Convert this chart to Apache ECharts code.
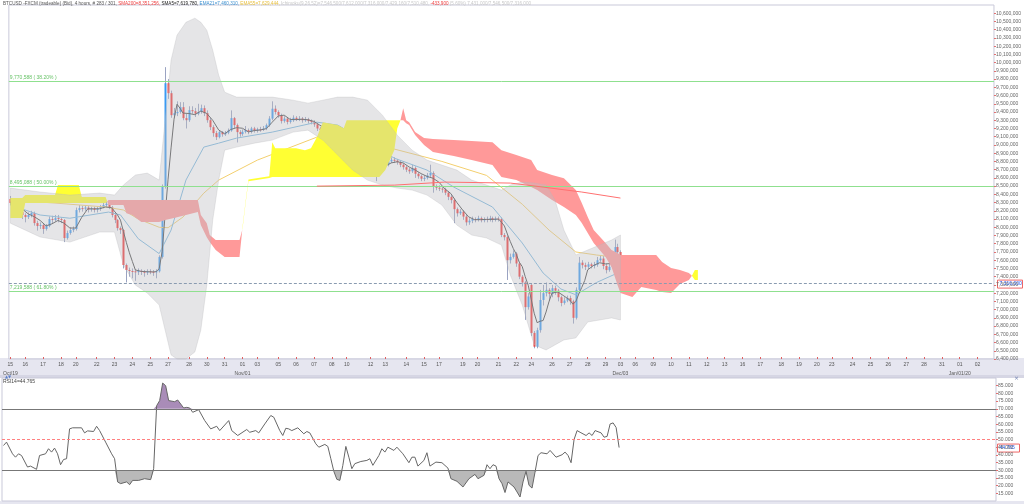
<!DOCTYPE html>
<html><head><meta charset="utf-8">
<script src="https://cdn.jsdelivr.net/npm/echarts/dist/echarts.min.js"></script>
<style>
html,body{margin:0;padding:0;background:#fff;overflow:hidden}
#wrap{position:relative;width:1024px;height:504px}
.band{position:absolute;left:0;width:1024px}
#c{position:absolute;left:0;top:0;width:1024px;height:504px}
</style></head><body>
<div id="wrap">
<div class="band" style="top:358px;height:18px;background:#e6e6f0"></div>
<div class="band" style="top:375px;height:3px;background:#d6d6e4"></div>
<div class="band" style="top:501px;height:3px;background:#e6e6f0"></div>
<div id="c"></div>
</div>
<script>
// ---------------- DATA ----------------
const barCount = 331;
const dayTicks = [[0,'15'],[5,'16'],[11,'17'],[17,'18'],[22,'20'],[29,'22'],[35,'23'],[41,'24'],[47,'25'],[53,'27'],[60,'28'],[66,'30'],[72,'31'],[78,'01'],[83,'03'],[90,'05'],[96,'06'],[102,'07'],[108,'08'],[113,'10'],[121,'12'],[126,'13'],[133,'14'],[139,'15'],[144,'17'],[152,'19'],[157,'20'],[164,'21'],[170,'22'],[175,'24'],[182,'26'],[188,'27'],[194,'28'],[200,'29'],[205,'03'],[210,'06'],[216,'09'],[222,'10'],[228,'11'],[234,'12'],[240,'13'],[246,'16'],[252,'17'],[259,'18'],[265,'19'],[271,'20'],[276,'23'],[283,'24'],[289,'25'],[295,'26'],[301,'27'],[307,'28'],[313,'31'],[319,'01'],[325,'02']];
const monthTicks = [[0,'Oct/19'],[78,'Nov/01'],[205,'Dec/03'],[319,'Jan/01/20']];

// candles [open, close, low, high] in thousands
const candles = [
[8343,8295,8270,8380],[8295,8270,8230,8320],[8270,8209,8170,8290],[8209,8185,8150,8240],[8185,8149,8100,8200],
[8149,8124,8060,8170],[8124,8149,8100,8180],[8149,8173,8120,8200],[8173,8051,8020,8190],[8051,8015,7960,8080],
[8015,8027,7980,8060],[8027,7979,7920,8050],[7979,8015,7960,8040],[8015,8100,8000,8130],[8100,8088,8050,8140],
[8088,8112,8070,8150],[8112,8100,8060,8150],[8100,8088,8050,8120],[8088,7869,7820,8100],[7869,7930,7850,7960],
[7930,7966,7910,8000],[7966,7979,7940,8010],[7979,8209,7960,8240],[8209,8233,8180,8270],[8233,8225,8190,8260],
[8225,8240,8200,8270],[8240,8215,8180,8260],[8215,8230,8190,8250],[8230,8210,8180,8250],[8210,8225,8180,8250],
[8225,8245,8200,8270],[8245,8270,8230,8300],[8270,8285,8250,8320],[8285,8240,8220,8300],[8240,8149,8120,8260],
[8149,8088,8050,8170],[8088,7990,7960,8100],[7990,7966,7920,8010],[7966,7542,7500,7980],[7542,7481,7330,7560],
[7481,7469,7400,7510],[7469,7465,7380,7500],[7465,7455,7350,7490],[7455,7470,7420,7500],[7470,7460,7420,7490],
[7460,7450,7400,7480],[7450,7465,7420,7490],[7465,7460,7430,7490],[7460,7455,7410,7480],[7455,7465,7380,7490],
[7465,7640,7450,7660],[7640,8490,7620,8520],[8490,9750,8470,9945],[9750,9629,9560,9800],[9629,9362,9330,9660],
[9362,9386,9330,9450],[9386,9400,9350,9530],[9400,9459,9380,9520],[9459,9326,9300,9520],[9326,9301,9200,9380],
[9301,9423,9280,9470],[9423,9410,9380,9470],[9410,9380,9340,9450],[9380,9400,9360,9500],[9400,9447,9380,9490],
[9447,9386,9350,9480],[9386,9301,9270,9420],[9301,9216,9180,9330],[9216,9144,9100,9240],[9144,9095,9060,9170],
[9095,9156,9080,9180],[9156,9130,9100,9170],[9130,9150,9110,9170],[9150,9175,9130,9200],[9175,9326,9160,9420],
[9326,9241,9200,9340],[9241,9156,9030,9260],[9156,9132,9100,9180],[9132,9160,9110,9190],[9160,9180,9140,9230],
[9180,9160,9130,9200],[9160,9200,9140,9220],[9200,9175,9150,9220],[9175,9190,9150,9210],[9190,9185,9160,9220],
[9185,9200,9170,9230],[9200,9240,9180,9260],[9240,9320,9220,9350],[9320,9440,9300,9530],[9440,9400,9370,9480],
[9400,9360,9330,9420],[9360,9290,9260,9380],[9290,9320,9270,9350],[9320,9280,9250,9340],[9280,9300,9260,9330],
[9300,9330,9280,9360],[9330,9310,9290,9350],[9310,9320,9290,9350],[9320,9300,9270,9340],[9300,9310,9280,9340],
[9310,9290,9260,9330],[9290,9280,9250,9310],[9280,9250,9220,9300],[9250,9200,9170,9260],[9200,9180,9150,9220],
[9180,9170,9140,9210],[9170,9190,9150,9220],[9190,9160,9130,9210],[9160,9150,9110,9190],[9150,9100,9060,9170],
[9100,8900,8860,9110],[8900,8760,8640,8920],[8760,8820,8740,8850],[8820,8900,8800,8930],[8900,8960,8880,9000],
[8960,8850,8820,8980],[8850,8720,8640,8870],[8720,8760,8700,8790],[8760,8800,8740,8830],[8800,8790,8760,8830],
[8790,8810,8770,8840],[8810,8780,8750,8830],[8780,8740,8700,8800],[8740,8700,8560,8760],[8700,8750,8680,8780],
[8750,8780,8730,8810],[8780,8760,8730,8800],[8760,8800,8740,8830],[8800,8820,8780,8850],[8820,8810,8780,8850],
[8810,8790,8760,8830],[8790,8760,8730,8810],[8760,8730,8700,8780],[8730,8700,8670,8750],[8700,8680,8650,8720],
[8680,8720,8660,8760],[8720,8650,8600,8740],[8650,8620,8590,8670],[8620,8590,8560,8640],[8590,8600,8560,8630],
[8600,8630,8580,8660],[8630,8660,8610,8760],[8660,8500,8420,8680],[8500,8480,8450,8520],[8480,8470,8440,8510],
[8470,8460,8420,8500],[8460,8420,8390,8480],[8420,8370,8330,8440],[8370,8330,8290,8390],[8330,8220,8050,8350],
[8220,8170,8130,8240],[8170,8190,8150,8220],[8190,8130,8090,8210],[8130,8060,8020,8150],[8060,8080,8030,8110],
[8080,8100,8050,8130],[8100,8090,8060,8120],[8090,8110,8070,8140],[8110,8085,8060,8130],[8085,8100,8060,8120],
[8100,8095,8060,8130],[8095,8110,8070,8140],[8110,8090,8060,8130],[8090,8105,8070,8130],[8105,8100,8070,8130],
[8100,7906,7880,8120],[7906,7880,7840,7930],[7880,7600,7360,7900],[7600,7640,7560,7680],[7640,7680,7620,7720],
[7680,7560,7520,7700],[7560,7400,7370,7580],[7400,7330,7280,7420],[7330,7030,6875,7350],[7030,7160,7000,7200],
[7300,6717,6680,7320],[6717,6550,6530,6740],[6550,6750,6530,6780],[6750,7117,6720,7240],[7117,7200,7050,7300],
[7200,7240,7160,7330],[7240,7190,7100,7260],[7190,7260,7150,7300],[7260,7230,7180,7290],[7230,7150,7100,7250],
[7150,7080,7040,7170],[7080,7110,7060,7150],[7110,7140,7090,7170],[7140,7100,7060,7170],[7100,6900,6830,7120],
[6900,7240,6880,7270],[7240,7570,7220,7640],[7570,7540,7500,7600],[7540,7520,7480,7570],[7520,7550,7490,7580],
[7550,7530,7500,7570],[7530,7545,7500,7580],[7545,7600,7520,7640],[7600,7620,7580,7660],[7620,7530,7490,7650],
[7530,7480,7440,7560],[7480,7520,7460,7560],[7520,7650,7500,7680],[7650,7760,7630,7850],[7760,7700,7670,7800],
[7700,7316,7290,7720]
];

// indicator readings [bar, value(thousands)]
const sma5 = [[0,8300],[2,8260],[4,8222],[6,8163],[8,8129],[10,8083],[12,8017],[14,8042],[16,8083],[18,8051],[20,7991],[22,7991],[24,8122],[26,8224],[28,8224],[30,8225],[32,8247],[34,8238],[36,8150],[37,8087],[38,7947],[39,7813],[40,7690],[41,7585],[42,7482],[44,7464],[46,7460],[48,7458],[49,7461],[50,7497],[51,7702],[52,8150],[53,8585],[54,8964],[55,9313],[56,9495],[57,9447],[58,9387],[60,9382],[62,9368],[64,9412],[66,9383],[68,9299],[70,9182],[72,9135],[74,9187],[76,9210],[78,9203],[80,9158],[82,9175],[84,9182],[86,9198],[88,9277],[90,9352],[92,9362],[94,9310],[96,9308],[98,9312],[100,9306],[102,9286],[104,9240],[106,9198],[108,9170],[110,9100],[112,8946],[114,8868],[116,8850],[118,8818],[120,8776],[122,8784],[124,8756],[126,8746],[128,8782],[130,8796],[132,8782],[134,8732],[136,8696],[138,8652],[140,8618],[142,8596],[144,8548],[146,8466],[148,8410],[150,8302],[152,8208],[154,8126],[156,8092],[158,8093],[160,8096],[162,8096],[164,8100],[165,8062],[166,8016],[167,7918],[168,7825],[169,7741],[170,7672],[171,7576],[172,7522],[173,7400],[174,7296],[175,7127],[176,6957],[177,6841],[178,6859],[179,6867],[180,6971],[181,7099],[182,7201],[184,7214],[186,7166],[188,7116],[189,7066],[190,7098],[191,7190],[192,7270],[193,7354],[194,7484],[196,7537],[198,7569],[200,7555],[202,7560],[203,7588],[204,7622],[205,7589]];
const ema21 = [[0,8270],[10,8149],[20,8110],[33,8185],[37,8150],[43,7860],[50,7680],[54,7966],[59,8573],[65,8974],[70,9022],[76,9083],[88,9156],[103,9277],[110,9241],[129,8840],[140,8695],[149,8488],[162,8246],[172,7809],[179,7445],[185,7250],[190,7180],[197,7330],[205,7460]];
const ema55 = [[0,8331],[15,8294],[32,8246],[38,8210],[43,8100],[50,8000],[53,7995],[58,8124],[65,8415],[70,8573],[83,8816],[103,9095],[112,9156],[129,8950],[145,8800],[160,8630],[172,8280],[181,7966],[190,7700],[197,7663],[205,7629]];
const sma200 = [[103,8500],[129,8512],[146,8549],[168,8537],[179,8488],[192,8428],[205,8355]];
// Bollinger band [bar, upper, lower]
const bands = [[0,8476,8050],[10,8428,7882],[20,8391,7820],[30,8415,7942],[35,8391,7942],[38,8513,7542],[42,8634,7299],[46,8658,7202],[50,8573,7056],[52,9301,6753],[54,10030,6450],[56,10333,6400],[59,10490,6400],[62,10540,6486],[64,10490,6753],[66,10394,7299],[68,10151,8088],[70,9848,8573],[72,9641,8937],[76,9581,8974],[82,9581,9022],[88,9581,9059],[95,9544,9156],[100,9508,9180],[105,9544,9059],[110,9581,8877],[115,9581,8695],[120,9544,8573],[125,9362,8513],[130,9119,8476],[135,8937,8452],[140,8816,8391],[145,8755,8270],[150,8695,8027],[155,8573,7906],[160,8513,7870],[165,8452,7784],[168,8513,7420],[172,8549,7056],[176,8537,6571],[180,8513,6510],[183,8331,6571],[186,7966,6632],[190,7663,6656],[194,7724,6850],[198,7784,6874],[202,7845,6899],[205,7906,6874]];
// Ichimoku cloud [bar, spanA, spanB]
const cloud = [[0,8355,8112],[4,8355,8112],[5,8391,8294],[15,8391,8294],[16,8513,8294],[23,8513,8294],[24,8367,8294],[32,8367,8294],[33,8270,8331],[38,8270,8331],[39,8170,8331],[41,8149,8331],[44,8063,8331],[50,8063,8331],[52,8088,8331],[55,8112,8331],[63,8185,8331],[64,8027,8149],[66,7880,8050],[67,7821,7906],[69,7724,7845],[72,7639,7845],[77,7639,7845],[78,8000,7980],[79,8300,8280],[80,8580,8560],[87,8620,8600],[88,9034,8610],[89,8961,8610],[96,8961,8610],[99,8937,8610],[101,8961,8610],[103,9095,8610],[105,9277,8610],[110,9241,8610],[112,9204,8610],[113,9301,8610],[124,9301,8610],[126,9301,8695],[129,9301,8937],[130,9301,9200],[131,9301,9290],[132,9301,9447],[133,9265,9301],[134,9241,9277],[136,9120,9156],[139,8998,9083],[142,8913,9071],[149,8865,9059],[155,8816,9047],[162,8755,9034],[165,8610,8937],[170,8573,8877],[175,8488,8816],[177,8452,8695],[182,8331,8634],[186,8246,8597],[190,8149,8452],[192,8051,8294],[194,7930,8124],[196,7809,7966],[200,7639,7809],[202,7518,7724],[204,7299,7688],[205,7202,7663],[209,7153,7663],[212,7275,7663],[217,7238,7663],[219,7214,7578],[222,7202,7505],[225,7311,7481],[228,7360,7445],[229,7410,7410],[230,7481,7360],[231,7481,7360]];
const rsi = [[0,46.1],[1,48.3],[3,40.7],[4,38.5],[5,40.7],[6,39.6],[8,32.1],[9,32.7],[11,30.6],[12,39.6],[14,40.7],[15,44],[16,41.8],[17,44.4],[18,40.7],[19,33.6],[20,37],[21,37.5],[22,56.9],[23,57.6],[26,57.6],[27,54.3],[28,55.6],[30,55.2],[31,58.6],[32,55.8],[34,48.3],[36,40.7],[37,37.5],[38,22.4],[39,21.3],[41,22.4],[42,20.6],[43,23.4],[45,23.4],[47,24.5],[49,23.9],[50,31],[51,72],[52,75.3],[53,86.7],[54,85],[55,75.3],[57,74.6],[58,75.7],[60,70.5],[61,70.9],[62,70.5],[63,67.7],[65,69.4],[67,62.3],[69,56.9],[71,58.6],[72,55.8],[75,62.3],[76,55.8],[78,52.6],[81,56.5],[82,54.7],[84,55.8],[85,54.3],[87,60.1],[89,65.6],[90,64.5],[92,55.8],[93,52.6],[94,57.3],[95,56.9],[96,55.8],[98,57.6],[100,53.7],[101,55.2],[102,54.3],[104,47.2],[105,45],[107,46.8],[108,45.5],[109,37.5],[110,29.3],[111,24.1],[112,23.4],[113,33.2],[114,45.5],[115,38.5],[116,31],[117,34.3],[119,35.7],[121,36.4],[122,37.5],[123,33.2],[125,39.6],[126,44],[127,41.8],[128,45],[130,42.9],[131,45],[133,40.7],[135,34.9],[136,38.5],[137,38.5],[138,32.7],[140,36.4],[141,41.4],[142,32.7],[144,35.3],[146,34.9],[148,31.4],[149,24.5],[151,22.8],[153,19.1],[155,24.5],[157,27.3],[158,24.5],[160,26.7],[161,33.6],[162,31],[163,33.6],[164,32.7],[165,24.5],[166,21.3],[167,15.5],[168,22.4],[170,19.1],[171,15.9],[172,12.6],[173,22.4],[174,29.3],[175,20.2],[176,18.4],[177,28.8],[178,39.6],[179,41.4],[181,40.7],[182,42.9],[184,38.5],[186,40.1],[187,41.8],[188,39.6],[189,34.9],[190,50],[191,55.8],[192,54.7],[194,52.6],[195,54.3],[196,52.6],[197,55.8],[199,54.3],[200,51.5],[201,52],[202,60.1],[203,60.8],[204,57.8],[205,44.765]];
const fibLevels = [[9770588,'9,770,588 ( 38.20% )'],[8495088,'8,495,088 ( 50.00% )'],[7219588,'7,219,588 ( 61.80% )']];
const lastPrice = 7316000;
const lastRsi = 44.765;
const rsiLevels = [70, 50, 30];

// ---------------- CHART ----------------
const K = 1000;
const FONT = 'Liberation Sans, Arial, sans-serif';
const cats = Array.from({length: barCount}, (_, i) => String(i));
const tickMap = new Map(dayTicks);
const monthMap = new Map(monthTicks);
const chart = echarts.init(document.getElementById('c'));

function pairs(arr){ return arr.map(r => [r[0], r[1]*K]); }

const option = {
  animation: false,
  textStyle: {fontFamily: FONT},
  grid: [
    {left: 2, top: 5, width: 994, height: 354, show: true, borderColor: '#c9c9d9', borderWidth: 1},
    {left: 2, top: 378, width: 994, height: 123, show: true, borderColor: '#c9c9d9', borderWidth: 1}
  ],
  xAxis: [
    {type: 'category', gridIndex: 0, data: cats, boundaryGap: true,
     axisLine: {show: false},
     axisTick: {show: true, inside: true, length: 2, alignWithLabel: true,
       interval: (i) => tickMap.has(i), lineStyle: {color: '#e06060'}},
     axisLabel: {interval: (i) => tickMap.has(i), fontSize: 5, color: '#555', margin: 1, lineHeight: 9,
       formatter: (v) => { const i = +v; const t = tickMap.get(i) || ''; return monthMap.has(i) ? t + '\n' + monthMap.get(i) : t; }},
     splitLine: {show: false}},
    {type: 'category', gridIndex: 1, data: cats, boundaryGap: true,
     axisLine: {show: false}, axisTick: {show: false}, axisLabel: {show: false}, splitLine: {show: false}}
  ],
  yAxis: [
    {type: 'value', gridIndex: 0, position: 'right', min: 6400000, max: 10700000, interval: 100000,
     axisLine: {show: false}, splitLine: {show: false},
     axisTick: {show: true, length: 2, lineStyle: {color: '#e07070'}},
     axisLabel: {fontSize: 5, color: '#666', margin: 2, showMaxLabel: false,
       formatter: (v) => v.toLocaleString('en-US')}},
    {type: 'value', gridIndex: 1, position: 'right', min: 10, max: 90, interval: 5,
     axisLine: {show: false}, splitLine: {show: false},
     axisTick: {show: true, length: 2, lineStyle: {color: '#e07070'}},
     axisLabel: {fontSize: 5, color: '#666', margin: 2, showMaxLabel: false, showMinLabel: false,
       formatter: (v) => v.toFixed(3)}}
  ],
  series: [
    // candles
    {type: 'custom', name: 'candles', xAxisIndex: 0, yAxisIndex: 0, z: 2, silent: true,
     data: candles.map((r, i) => [i, r[0]*K, r[1]*K, r[2]*K, r[3]*K]),
     encode: {x: 0, y: [1, 2, 3, 4]},
     renderItem: (params, api) => {
       const i = api.value(0), o = api.value(1), c = api.value(2), l = api.value(3), h = api.value(4);
       const po = api.coord([i, o]), pc = api.coord([i, c]), pl = api.coord([i, l]), ph = api.coord([i, h]);
       const cx = Math.round(po[0]) + 0.5;
       const top = Math.min(po[1], pc[1]);
       const hh = Math.max(1, Math.abs(po[1] - pc[1]));
       return {type: 'group', children: [
         {type: 'line', shape: {x1: cx, y1: ph[1], x2: cx, y2: pl[1]}, style: {stroke: '#9aa3c2', lineWidth: 1}},
         {type: 'rect', shape: {x: cx - 1, y: top, width: 2, height: hh}, style: {fill: c >= o ? '#3a9af2' : '#f03a3a'}}
       ]};
     }},
    {type: 'line', name: 'EMA55', xAxisIndex: 0, yAxisIndex: 0, z: 2, data: pairs(ema55), showSymbol: false, silent: true,
     lineStyle: {color: '#f3cf6e', width: 1}},
    {type: 'line', name: 'EMA21', xAxisIndex: 0, yAxisIndex: 0, z: 2, data: pairs(ema21), showSymbol: false, silent: true,
     lineStyle: {color: '#7ab8e0', width: 1}},
    {type: 'line', name: 'SMA5', xAxisIndex: 0, yAxisIndex: 0, z: 2, data: pairs(sma5), showSymbol: false, silent: true,
     lineStyle: {color: '#4a4a4a', width: 1}},
    // Ichimoku cloud
    {type: 'custom', name: 'cloud', xAxisIndex: 0, yAxisIndex: 0, z: 3, silent: true,
     data: [[0, 8000000]],
     renderItem: (params, api) => {
       const pts = cloud.map(r => ({a: api.coord([r[0], r[1]*K]), b: api.coord([r[0], r[2]*K]), d: r[1] - r[2]}));
       const polys = [];
       let cur = {sign: pts[0].d >= 0 ? 1 : -1, A: [pts[0].a], B: [pts[0].b]};
       for (let k = 1; k < pts.length; k++) {
         const p = pts[k], q = pts[k-1];
         const s = p.d > 0 ? 1 : (p.d < 0 ? -1 : 0);
         if (s !== 0 && s !== cur.sign) {
           const t = q.d / (q.d - p.d);
           const x = q.a[0] + t*(p.a[0] - q.a[0]);
           const y = q.a[1] + t*(p.a[1] - q.a[1]);
           cur.A.push([x, y]); cur.B.push([x, y]); polys.push(cur);
           cur = {sign: s, A: [[x, y], p.a], B: [[x, y], p.b]};
         } else { cur.A.push(p.a); cur.B.push(p.b); }
       }
       polys.push(cur);
       return {type: 'group', children: polys.map(pl => ({type: 'polygon',
         shape: {points: pl.A.concat(pl.B.slice().reverse())},
         style: {fill: pl.sign > 0 ? '#ffff33' : '#ff9999'}}))};
     }},
    // Bollinger band
    {type: 'custom', name: 'bb', xAxisIndex: 0, yAxisIndex: 0, z: 4, silent: true,
     data: [[0, 8000000]],
     renderItem: (params, api) => {
       const up = bands.map(r => api.coord([r[0], r[1]*K]));
       const lo = bands.map(r => api.coord([r[0], r[2]*K])).reverse();
       return {type: 'polygon', shape: {points: up.concat(lo)},
         style: {fill: 'rgba(190,190,194,0.4)', stroke: 'rgba(180,180,185,0.5)', lineWidth: 0.6}};
     }},
    {type: 'line', name: 'SMA200', xAxisIndex: 0, yAxisIndex: 0, z: 6, data: pairs(sma200), showSymbol: false, silent: true,
     lineStyle: {color: '#ff7070', width: 1},
     markLine: {silent: true, symbol: 'none', animation: false,
       data: fibLevels.map(f => ({yAxis: f[0], lineStyle: {color: '#8fe08f', width: 1, type: 'solid'},
         label: {show: true, position: 'insideStartTop', formatter: f[1], color: '#66c266', fontSize: 5, distance: [1, 1]}}))
         .concat([{yAxis: lastPrice, lineStyle: {color: '#8a9bb0', width: 1, type: [3, 2]}, label: {show: false}}])}},
    // RSI fills
    {type: 'custom', name: 'rsiFill', xAxisIndex: 1, yAxisIndex: 1, z: 2, silent: true,
     data: [[0, 50]],
     renderItem: (params, api) => {
       const over = rsi.map(r => api.coord([r[0], Math.max(r[1], 70)]));
       const under = rsi.map(r => api.coord([r[0], Math.min(r[1], 30)]));
       const x0 = api.coord([rsi[0][0], 70])[0], x1 = api.coord([rsi[rsi.length-1][0], 70])[0];
       const y70 = api.coord([0, 70])[1], y30 = api.coord([0, 30])[1];
       return {type: 'group', children: [
         {type: 'polygon', shape: {points: over.concat([[x1, y70], [x0, y70]])}, style: {fill: '#a98cb8'}},
         {type: 'polygon', shape: {points: under.concat([[x1, y30], [x0, y30]])}, style: {fill: '#b9b9b9'}}
       ]};
     }},
    {type: 'line', name: 'RSI', xAxisIndex: 1, yAxisIndex: 1, z: 4, data: rsi, showSymbol: false, silent: true,
     lineStyle: {color: '#666', width: 1},
     markLine: {silent: true, symbol: 'none', animation: false,
       data: rsiLevels.map(v => ({yAxis: v, label: {show: false},
         lineStyle: v === 50 ? {color: '#ff8080', width: 1, type: [3, 2]} : {color: '#777', width: 1, type: 'solid'}}))}}
  ]
};
chart.setOption(option);

// text overlays positioned through the axes
const yPrice = chart.convertToPixel({yAxisIndex: 0}, lastPrice);
const yRsi = chart.convertToPixel({yAxisIndex: 1}, lastRsi);
chart.setOption({graphic: [
  {type: 'text', left: 3, top: 1, z: 100, style: {
    text: '{a|BTCUSD -FXCM (tradeable) (Bid), 4 hours, # 283 / 301, }{b|SMA200=8,351,256, }{c|SMA5=7,619,780, }{d|EMA21=7,460,310, }{e|EMA55=7,629,444, }{f|Ichimoku(9,26,52)=7,546,500/7,612,000/7,316,000/7,429,160/7,510,480, }{g|-433,900}{f| (5.60%) 7,431,000/7,546,500/7,316,000 }',
    rich: {a: {fill: '#555', fontSize: 4.6}, b: {fill: '#f04040', fontSize: 4.6}, c: {fill: '#222', fontSize: 4.6},
           d: {fill: '#3a8fd0', fontSize: 4.6}, e: {fill: '#e8c040', fontSize: 4.6}, f: {fill: '#c8c8c8', fontSize: 4.6},
           g: {fill: '#f04040', fontSize: 4.6}},
    fontFamily: FONT}},
  {type: 'text', left: 3, top: 379, z: 100, style: {text: 'RSI14=44.765', fill: '#444', fontSize: 5, fontFamily: FONT}},
  {type: 'text', left: 5, top: 375, z: 100, style: {text: '▲▼', fill: '#5b7fc9', fontSize: 4, fontFamily: 'DejaVu Sans'}},
  {type: 'text', left: 1014, top: 375, z: 100, style: {text: '×', fill: '#7080b0', fontSize: 6, fontFamily: 'DejaVu Sans'}},
  {type: 'group', left: 997, top: yPrice - 4, z: 100, children: [
    {type: 'rect', shape: {x: 0, y: 0, width: 25, height: 8}, style: {fill: '#fff', stroke: '#ee6666', lineWidth: 1}},
    {type: 'text', x: 2, y: 1.5, style: {text: '7,316,000', fill: '#2255ee', fontSize: 5, fontFamily: FONT}}]},
  {type: 'group', left: 997, top: yRsi - 4, z: 100, children: [
    {type: 'rect', shape: {x: 0, y: 0, width: 22, height: 8}, style: {fill: '#fff', stroke: '#ee6666', lineWidth: 1}},
    {type: 'text', x: 2, y: 1.5, style: {text: '44.765', fill: '#2255ee', fontSize: 5, fontFamily: FONT}}]}
]});
</script>
</body></html>
